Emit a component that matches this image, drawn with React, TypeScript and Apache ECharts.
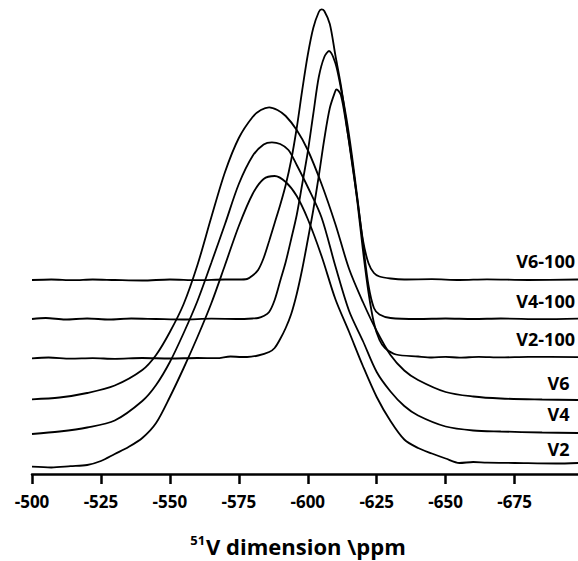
import React, { useEffect, useRef } from "react";
import * as echarts from "echarts";

// ---- axis ----
const X_TICKS = [-500, -525, -550, -575, -600, -625, -650, -675];
const X_MIN = -698;
const X_MAX = -500;
const Y_MIN = 0;
const Y_MAX = 474;

// ---- series names ----
const SERIES_NAMES = ["V6-100", "V4-100", "V2-100", "V6", "V4", "V2"];

// ---- stacked spectra: [ppm, intensity incl. offset] ----
const V6_100: [number, number][] = [
  [-500, 194], [-507, 194.5], [-515, 193.8], [-522, 194.5], [-530, 194], [-540, 193.5],
  [-550, 194.5], [-560, 193.8], [-570, 194.5], [-575, 194.5], [-578, 195], [-580, 198.5],
  [-582, 204], [-584, 216], [-586, 233], [-588, 251], [-590, 269], [-592, 289], [-594, 314],
  [-596, 346], [-598, 384], [-600, 419], [-602, 446], [-604, 462], [-605, 464.7], [-606, 463],
  [-608, 450], [-610, 419], [-612, 389], [-614, 351], [-616, 312], [-618, 274], [-620, 234],
  [-622, 211], [-624, 201], [-626, 197.5], [-630, 195.5], [-635, 194.5], [-645, 194.8],
  [-655, 194], [-665, 194.6], [-680, 194], [-698, 194.5],
];

const V4_100: [number, number][] = [
  [-500, 155], [-505, 156], [-512, 154.5], [-520, 155.5], [-528, 154.5], [-536, 155.5],
  [-545, 155], [-555, 154.5], [-565, 155.3], [-575, 155], [-580, 155.5], [-582, 156],
  [-584, 158], [-586, 162], [-588, 174], [-590, 193], [-592, 212], [-594, 235], [-596, 259],
  [-598, 290], [-600, 322], [-602, 360], [-604, 397], [-606, 417], [-607.7, 423], [-610, 411],
  [-612, 386], [-614, 356], [-616, 319], [-618, 276], [-620, 231], [-622, 189], [-624, 166],
  [-626, 159.5], [-630, 156], [-640, 155], [-650, 155.5], [-660, 155], [-670, 155.5],
  [-685, 154.8], [-698, 155.3],
];

const V2_100: [number, number][] = [
  [-500, 115.7], [-506, 116.5], [-514, 115.3], [-522, 115.8], [-530, 115.2], [-540, 116],
  [-550, 115.5], [-560, 116], [-567, 115.8], [-572, 117.5], [-576, 117], [-578, 117],
  [-582, 118.5], [-586, 122], [-588, 126], [-590, 135], [-592, 146], [-594, 160], [-596, 180],
  [-598, 205], [-600, 234], [-602, 264], [-604, 298], [-606, 335], [-608, 366], [-610, 383],
  [-610.4, 384.7], [-612, 379], [-614, 349], [-616, 314], [-618, 272], [-620, 224], [-622, 182],
  [-624, 151], [-626, 134], [-628, 126], [-632, 119.5], [-640, 117.5], [-645, 116.5],
  [-650, 117.2], [-655, 116.3], [-662, 117.2], [-670, 116.6], [-680, 117.2], [-698, 116.8],
];

const V6: [number, number][] = [
  [-500, 74.7], [-510, 76.5], [-520, 81], [-530, 88.5], [-540, 104], [-545, 119], [-550, 142],
  [-555, 170], [-560, 209], [-565, 256.5], [-570, 302], [-575, 336], [-580, 357],
  [-583, 364], [-586, 366.7], [-589, 364], [-592, 358], [-596, 344], [-600, 324], [-605, 290],
  [-610, 250], [-615, 205], [-620, 172], [-625, 143], [-630, 119], [-635, 103.5], [-640, 94],
  [-650, 82], [-660, 77.5], [-670, 75.5], [-685, 74.5], [-698, 74],
];

const V4: [number, number][] = [
  [-500, 40], [-510, 42.5], [-520, 46.5], [-530, 53.5], [-540, 73], [-545, 89], [-550, 112],
  [-555, 141], [-560, 173], [-565, 211], [-570, 250], [-575, 290], [-580, 318], [-584, 329.5],
  [-587, 331.7], [-590, 330], [-593, 324], [-596, 309], [-600, 287], [-605, 256.5], [-610, 208],
  [-615, 163], [-620, 133], [-625, 102], [-630, 82.5], [-635, 68], [-640, 58.5], [-650, 47.5],
  [-660, 43.5], [-670, 42.5], [-685, 41.5], [-698, 41],
];

const V2: [number, number][] = [
  [-500, 7.3], [-507, 6.5], [-514, 7.8], [-520, 9], [-525, 13], [-530, 20], [-535, 27],
  [-540, 36], [-545, 51], [-550, 77], [-555, 106], [-560, 137], [-565, 170.5], [-570, 209],
  [-575, 248], [-580, 280], [-584, 295], [-588, 298], [-592, 292], [-596, 278], [-600, 255],
  [-605, 218], [-610, 175], [-615, 142], [-620, 108], [-625, 77], [-630, 53], [-635, 34.5],
  [-640, 26], [-645, 20.5], [-650, 15.5], [-655, 11], [-660, 12], [-665, 11.3], [-675, 11],
  [-690, 10.5], [-698, 11],
];

const SERIES_DATA = [V6_100, V4_100, V2_100, V6, V4, V2];

const FONT = "'Open Sans', 'DejaVu Sans', sans-serif";

export default function App() {
  const ref = useRef<HTMLDivElement>(null);

  useEffect(() => {
    if (!ref.current) return;
    const chart = echarts.init(ref.current, undefined, { renderer: "svg" });

    const labelPos: { x: number; y: number }[] = [
      { x: 575, y: 261 },
      { x: 575, y: 301 },
      { x: 575, y: 339 },
      { x: 569.5, y: 383 },
      { x: 569.5, y: 414 },
      { x: 569.5, y: 449 },
    ];

    chart.setOption({
      animation: false,
      backgroundColor: "#ffffff",
      grid: { left: 32, right: 0, top: 0, bottom: 87, containLabel: false },
      xAxis: {
        type: "value",
        inverse: true,
        min: X_MIN,
        max: X_MAX,
        axisLine: { show: true, lineStyle: { color: "#000", width: 2.5 } },
        axisTick: {
          show: true,
          customValues: X_TICKS,
          length: 10,
          lineStyle: { color: "#000", width: 2.5 },
        },
        axisLabel: {
          customValues: X_TICKS,
          color: "#000",
          fontSize: 17,
          fontWeight: "bold",
          fontFamily: FONT,
          margin: 19,
          formatter: (v: number) => String(v),
        },
        splitLine: { show: false },
      },
      yAxis: {
        type: "value",
        min: Y_MIN,
        max: Y_MAX,
        show: false,
        splitLine: { show: false },
      },
      series: SERIES_DATA.map((d, i) => ({
        name: SERIES_NAMES[i],
        type: "line",
        data: d,
        showSymbol: false,
        smooth: 0.3,
        silent: true,
        lineStyle: { color: "#000", width: 1.8 },
      })),
      graphic: [
        ...SERIES_NAMES.map((n, i) => ({
          type: "text",
          x: labelPos[i].x,
          y: labelPos[i].y,
          silent: true,
          style: {
            text: n,
            align: "right",
            verticalAlign: "middle",
            fill: "#000",
            fontSize: 18,
            fontWeight: "bold",
            fontFamily: FONT,
          },
        })),
        {
          type: "text",
          x: 298,
          y: 546,
          silent: true,
          style: {
            text: "{sup|51}{main|V dimension \\ppm}",
            align: "center",
            verticalAlign: "middle",
            fill: "#000",
            fontFamily: FONT,
            rich: {
              sup: {
                fontSize: 13,
                fontWeight: "bold",
                fontFamily: FONT,
                fill: "#000",
                verticalAlign: "top",
                lineHeight: 26,
                padding: [0, 1, 12, 0],
              },
              main: {
                fontSize: 22,
                fontWeight: "bold",
                fontFamily: FONT,
                fill: "#000",
                lineHeight: 26,
              },
            },
          },
        },
      ],
    });

    return () => chart.dispose();
  }, []);

  return (
    <div
      ref={ref}
      style={{ position: "fixed", left: 0, top: 0, width: 578, height: 561, background: "#fff" }}
    />
  );
}
